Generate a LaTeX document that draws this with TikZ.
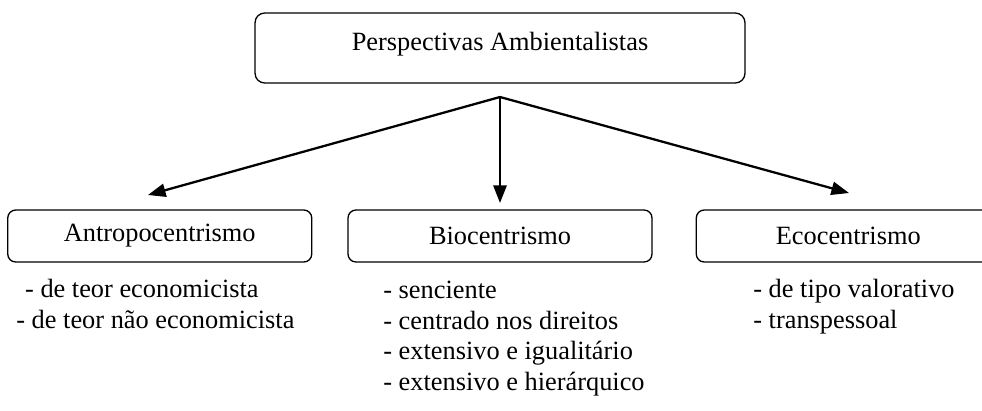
\documentclass[tikz,border=0pt]{standalone}
\usepackage{fontspec}
\setmainfont{Liberation Serif}
\usetikzlibrary{arrows.meta, positioning}

\begin{document}
\begin{tikzpicture}[
    x=0.02cm, y=-0.02cm,
    node distance=0.7cm,
    every node/.style={font=\fontsize{15}{17.3}\selectfont},
    block/.style={rectangle, draw, line width=0.75pt, rounded corners=4.5pt, minimum height=1.04cm, minimum width=6.08cm, align=center},
    title/.style={block, rounded corners=5.5pt, minimum height=1.4cm, minimum width=9.8cm, text depth=7.8pt},
    items/.style={align=left, anchor=base west, inner sep=0pt},
    arrow/.style={line width=1.3pt, -{Triangle[length=10pt, width=7.5pt]}},
]
    \clip (0,0) rectangle (982,410);
    % Main boxes
    \node[title] (persp) at (500,48) {Perspectivas Ambientalistas};
    \node[block] (bio) at (500,236) {Biocentrismo};
    \node[block, left=0.7cm of bio] (antropo) {Antropocentrismo};
    \node[block, right=0.86cm of bio] (eco) {Ecocentrismo};

    % Arrow ends
    \coordinate (split) at (500,97);
    \coordinate (to-antropo) at (148,195);
    \coordinate (to-bio) at (500,203);
    \coordinate (to-eco) at (849,193);
    \draw[arrow] (split) -- (to-antropo);
    \draw[arrow] (split) -- (to-bio);
    \draw[arrow] (split) -- (to-eco);

    % Sub-types (anchored on the last line)
    \node[items] (antropo-list) at (16,328) {\hspace*{5pt}- de teor economicista\\- de teor não economicista};
    \node[items] (bio-list) at (383,390) {- senciente\\- centrado nos direitos\\- extensivo e igualitário\\- extensivo e hierárquico};
    \node[items] (eco-list) at (753,328) {- de tipo valorativo\\- transpessoal};
\end{tikzpicture}
\end{document}
